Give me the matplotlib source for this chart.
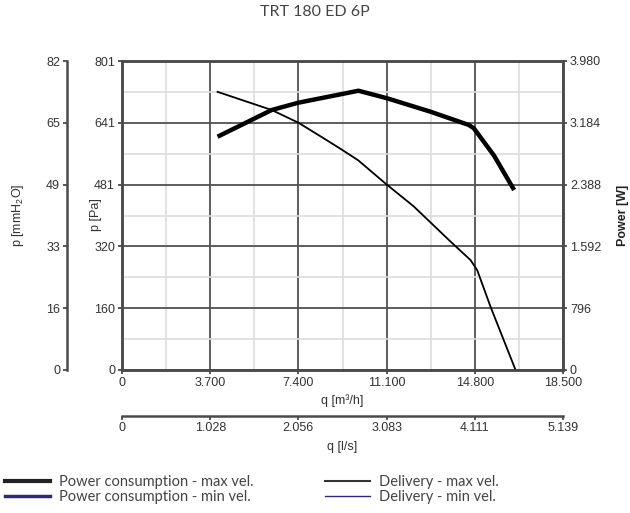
import matplotlib
matplotlib.use("Agg")
import matplotlib.pyplot as plt
from matplotlib.lines import Line2D

plt.rcParams['font.family'] = ['Liberation Sans', 'DejaVu Sans']
plt.rcParams['mathtext.fontset'] = 'custom'
plt.rcParams['mathtext.rm'] = 'Liberation Sans'

# data
q_delivery = [4.01, 6.28, 7.40, 8.40, 9.20, 9.90, 11.10, 12.24, 13.78, 14.62, 14.90, 15.46, 16.51]
p_delivery = [721, 674, 641, 603, 572, 544, 481, 424, 333, 285, 259, 164, 0]

q_power = [4.01, 6.28, 7.40, 9.92, 11.12, 12.94, 14.55, 14.76, 15.61, 16.45]
w_power = [3005, 3349, 3443, 3597, 3500, 3327, 3156, 3113, 2760, 2318]

q_ticks = [0, 3.7, 7.4, 11.1, 14.8, 18.5]
q_labels = ['0', '3.700', '7.400', '11.100', '14.800', '18.500']
ls_ticks = [0, 1.028, 2.056, 3.083, 4.111, 5.139]
ls_labels = ['0', '1.028', '2.056', '3.083', '4.111', '5.139']
pa_ticks = [0, 160.2, 320.4, 480.6, 640.8, 801]
pa_labels = ['0', '160', '320', '481', '641', '801']
mm_labels = ['0', '16', '33', '49', '65', '82']
w_ticks = [0, 796, 1592, 2388, 3184, 3980]
w_labels = ['0', '796', '1.592', '2.388', '3.184', '3.980']

spine_c = '#4a4a4a'
txt_c = '#333333'
navy = '#2b2a7c'
fs = 9

fig = plt.figure(figsize=(6.3, 5.13), dpi=100)
ax = fig.add_axes([122/630, 1-370/513, 441/630, 309/513])

ax.set_xlim(0, 18.5)
ax.set_ylim(0, 801)
ax.set_xticks(q_ticks)
ax.set_xticklabels(q_labels)
ax.set_xticks([1.85, 5.55, 9.25, 12.95, 16.65], minor=True)
ax.set_yticks(pa_ticks)
ax.set_yticklabels(pa_labels)
ax.set_yticks([80.1, 240.3, 400.5, 560.7, 720.9], minor=True)
ax.grid(which='minor', color='#dddddd', lw=1.2)
ax.grid(which='major', color='#505050', lw=1.3)
ax.set_axisbelow(True)
ax.tick_params(which='minor', length=0)
ax.tick_params(which='major', length=3, width=1.3, color=spine_c, labelsize=fs,
               labelcolor=txt_c, pad=2)
for s in ax.spines.values():
    s.set_color(spine_c)
    s.set_linewidth(1.8)

ax.plot(q_delivery, p_delivery, color='black', lw=1.3, zorder=3)

# power on the right
axw = ax.twinx()
axw.set_ylim(0, 3980)
axw.set_yticks(w_ticks)
axw.set_yticklabels(w_labels)
axw.tick_params(length=3, width=1.3, color=spine_c, labelsize=fs, labelcolor=txt_c, pad=2)
for s in axw.spines.values():
    s.set_color(spine_c)
    s.set_linewidth(1.8)
axw.plot(q_power, w_power, color='black', lw=3.2, solid_capstyle='butt', zorder=4)

# mmH2O axis on the far left
axm = ax.twinx()
axm.set_ylim(0, 801)
axm.yaxis.set_ticks_position('left')
axm.spines['left'].set_position(('axes', -55/441))
axm.spines['left'].set_color(spine_c)
axm.spines['left'].set_linewidth(1.8)
for k in ['right', 'top', 'bottom']:
    axm.spines[k].set_visible(False)
axm.set_yticks(pa_ticks)
axm.set_yticklabels(mm_labels)
axm.tick_params(length=3, width=1.3, color=spine_c, labelsize=fs, labelcolor=txt_c, pad=2)

# l/s axis below
axl = ax.twiny()
axl.set_xlim(0, 18.5/3.6)
axl.xaxis.set_ticks_position('bottom')
axl.spines['bottom'].set_position(('axes', -45.5/309))
axl.spines['bottom'].set_color(spine_c)
axl.spines['bottom'].set_linewidth(1.8)
for k in ['right', 'top', 'left']:
    axl.spines[k].set_visible(False)
axl.set_xticks(ls_ticks)
axl.set_xticklabels(ls_labels)
axl.tick_params(length=3, width=1.3, color=spine_c, labelsize=fs, labelcolor=txt_c, pad=2)

# axis titles
fig.text(96/630, 1-215/513, 'p [Pa]', rotation=90, ha='center', va='center', fontsize=fs, color=txt_c)
fig.text(18/630, 1-215/513, r'p [mmH$_\mathrm{2}$O]', rotation=90, ha='center', va='center',
         fontsize=fs, color=txt_c)
fig.text(623/630, 1-215/513, 'Power [W]', rotation=90, ha='center', va='center', fontsize=fs,
         color='#222222', fontweight='bold')
fig.text(342/630, 1-401/513, 'q [m³/h]', ha='center', va='center', fontsize=fs, color=txt_c)
fig.text(342/630, 1-447/513, 'q [l/s]', ha='center', va='center', fontsize=fs, color=txt_c)

fig.text(315/630, 1-12/513, 'TRT 180 ED 6P', ha='center', va='center', fontsize=11.5,
         color='#444444', family=['Lato', 'DejaVu Sans'])

# legend
left_handles = [Line2D([], [], color='#222222', lw=3),
                Line2D([], [], color=navy, lw=2.5)]
right_handles = [Line2D([], [], color='#333333', lw=1.5),
                 Line2D([], [], color=navy, lw=1)]
leg_kw = dict(frameon=False, labelspacing=0.05, handlelength=3.1,
              handletextpad=0.6, borderpad=0, borderaxespad=0, loc='upper left',
              prop={'family': ['Lato', 'DejaVu Sans'], 'size': 10.5})
l1 = fig.legend(left_handles, ['Power consumption - max vel.', 'Power consumption - min vel.'],
                bbox_to_anchor=(5/630, 1-475/513), **leg_kw)
l2 = fig.legend(right_handles, ['Delivery - max vel.', 'Delivery - min vel.'],
                bbox_to_anchor=(325/630, 1-475/513), **leg_kw)
for leg in (l1, l2):
    for t in leg.get_texts():
        t.set_color('#444444')

fig.savefig('out.png', dpi=100)
